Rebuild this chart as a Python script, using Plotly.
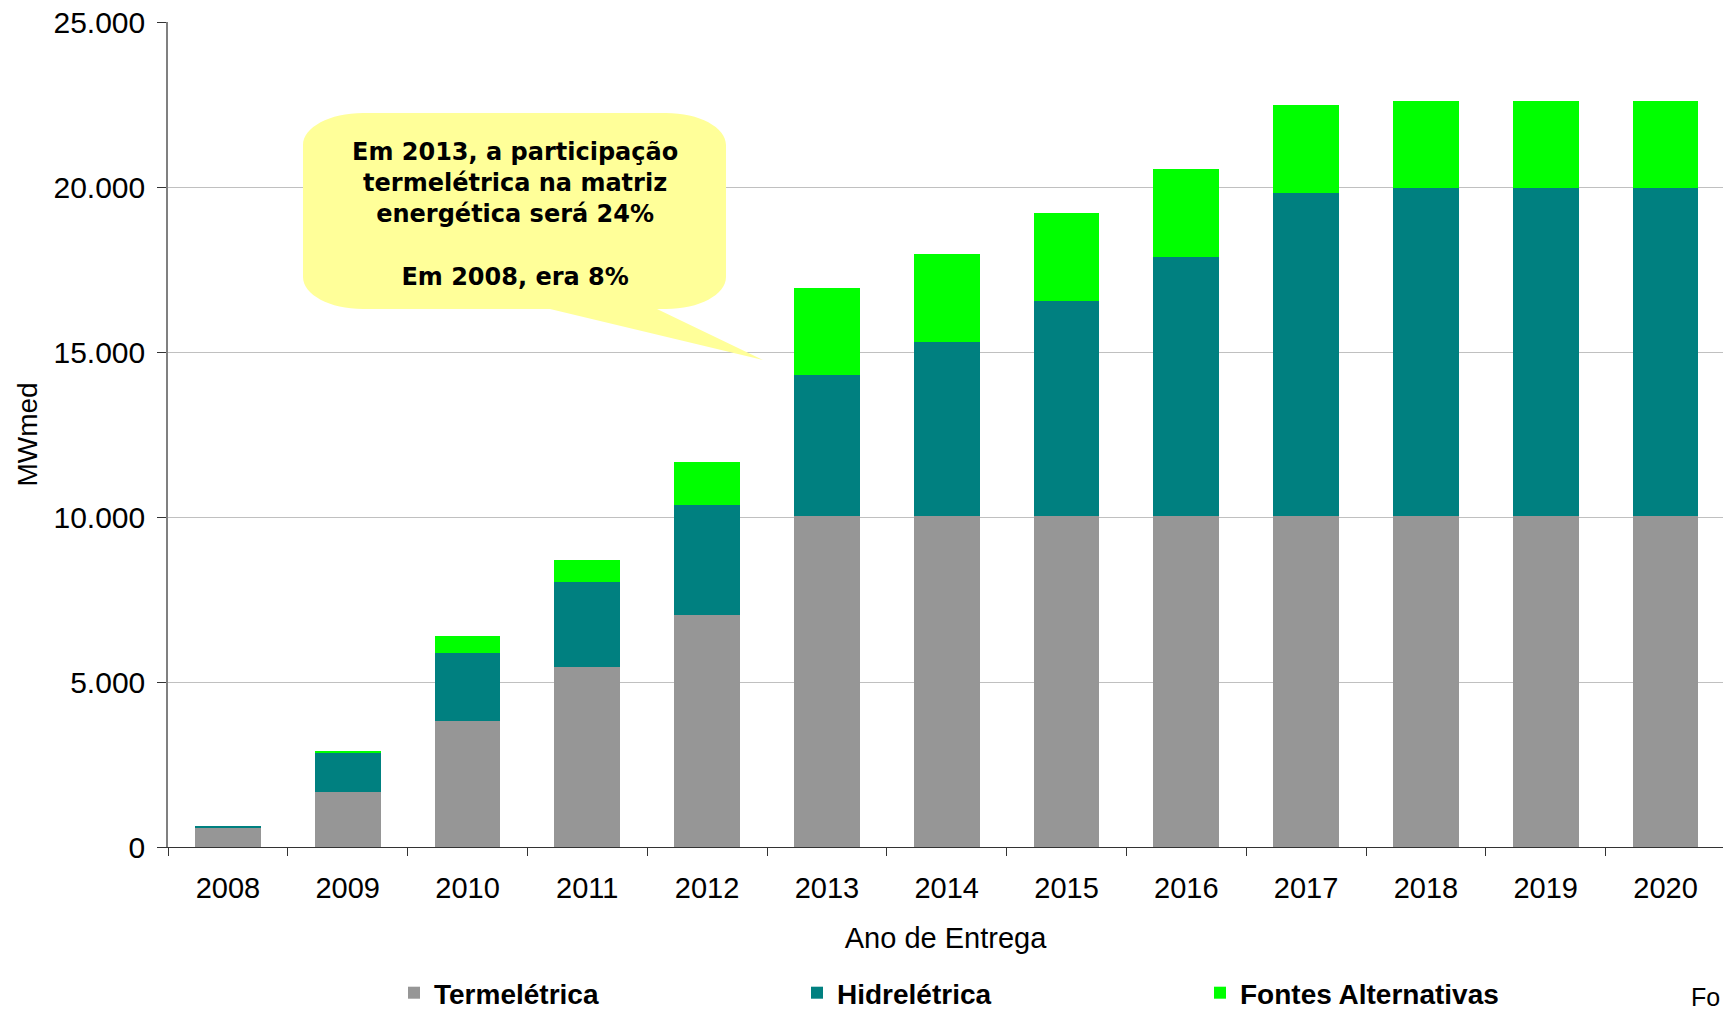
import plotly.graph_objects as go

# Contracted energy by delivery year (MWmed), stacked by source
anos = ["2008", "2009", "2010", "2011", "2012", "2013", "2014",
        "2015", "2016", "2017", "2018", "2019", "2020"]
termeletrica = [570, 1680, 3830, 5460, 7030, 10030, 10030,
                10030, 10030, 10030, 10030, 10030, 10030]
hidreletrica = [80, 1180, 2060, 2570, 3330, 4270, 5270,
                6520, 7850, 9800, 9925, 9925, 9925]
fontes_alternativas = [0, 20, 500, 660, 1300, 2640, 2670,
                       2660, 2680, 2670, 2665, 2665, 2665]

y_ticks = [0, 5000, 10000, 15000, 20000, 25000]

W, H = 1723, 1011
L, R, T, B = 168, 1723, 22, 847  # plot area in pixels


def px(x):
    return (x - L) / (R - L)


def py(y):
    return (B - y) / (B - T)


fig = go.Figure()
series = [
    ("Termelétrica", termeletrica, "#969696"),
    ("Hidrelétrica", hidreletrica, "#008080"),
    ("Fontes Alternativas", fontes_alternativas, "#00FF00"),
]
for nome, vals, cor in series:
    fig.add_trace(go.Bar(x=anos, y=vals, name=nome, marker_color=cor,
                         marker_line_width=0))

# Speech-bubble callout
left, right, top, bottom = 303, 726, 113, 309
rx, ry = 60, 32
k = 0.5523
tip = (763, 360)
tail_l, tail_r = 550, 657


def P(x, y):
    return f"{px(x):.5f},{py(y):.5f}"


path = (
    f"M {P(left + rx, top)} L {P(right - rx, top)} "
    f"C {P(right - rx + k * rx, top)} {P(right, top + ry - k * ry)} {P(right, top + ry)} "
    f"L {P(right, bottom - ry)} "
    f"C {P(right, bottom - ry + k * ry)} {P(right - rx + k * rx, bottom)} {P(right - rx, bottom)} "
    f"L {P(tail_r, bottom)} L {P(*tip)} L {P(tail_l, bottom)} "
    f"L {P(left + rx, bottom)} "
    f"C {P(left + rx - k * rx, bottom)} {P(left, bottom - ry + k * ry)} {P(left, bottom - ry)} "
    f"L {P(left, top + ry)} "
    f"C {P(left, top + ry - k * ry)} {P(left + rx - k * rx, top)} {P(left + rx, top)} Z"
)
fig.add_shape(type="path", path=path, xref="paper", yref="paper",
              fillcolor="#FFFF99", line_width=0, layer="above")

fig.add_annotation(
    x=px((left + right) / 2), y=py(215), xref="paper", yref="paper",
    text="Em 2013, a participação<br>termelétrica na matriz<br>energética será 24%<br><br>Em 2008, era 8%",
    showarrow=False, xanchor="center", yanchor="middle", align="center",
    font=dict(family="DejaVu Sans", size=24, color="black", weight="bold"),
)

# Source note at the right edge
fig.add_annotation(
    x=px(1689), y=py(997), xref="paper", yref="paper",
    text="Fo", showarrow=False, xanchor="left", yanchor="middle",
    font=dict(family="Liberation Sans Narrow, Liberation Sans", size=25, color="black"),
)

fig.update_layout(
    width=W, height=H,
    barmode="stack", bargap=0.45,
    separators=",.",
    plot_bgcolor="white", paper_bgcolor="white",
    margin=dict(l=L, r=W - R, t=T, b=H - B, autoexpand=False),
    font=dict(family="Liberation Sans", color="black"),
    legend=dict(
        orientation="h", x=px(394), xanchor="left", y=py(968), yanchor="top",
        font=dict(family="Liberation Sans", size=28, color="black", weight="bold"),
        entrywidth=358, entrywidthmode="pixels",
        bgcolor="rgba(0,0,0,0)", traceorder="normal",
    ),
)

fig.update_xaxes(
    range=[-0.5, 12.48],
    showline=True, linecolor="#333333", linewidth=1,
    ticks="outside", ticklen=8, tickcolor="#333333", tickson="boundaries",
    tickfont=dict(size=29), ticklabelstandoff=15, showgrid=False,
    title=dict(text="Ano de Entrega", font=dict(size=29), standoff=24),
)
fig.update_yaxes(
    range=[0, 25000], tickvals=y_ticks, tickformat=",d",
    showline=True, linecolor="#808080", linewidth=1.5,
    ticks="outside", ticklen=9, tickcolor="#333333",
    tickfont=dict(size=30), ticklabelstandoff=6,
    showgrid=True, gridcolor="#C0C0C0", gridwidth=1, zeroline=False,
    title=dict(text="MWmed", font=dict(size=28), standoff=8),
)

fig.write_html("out.html")
